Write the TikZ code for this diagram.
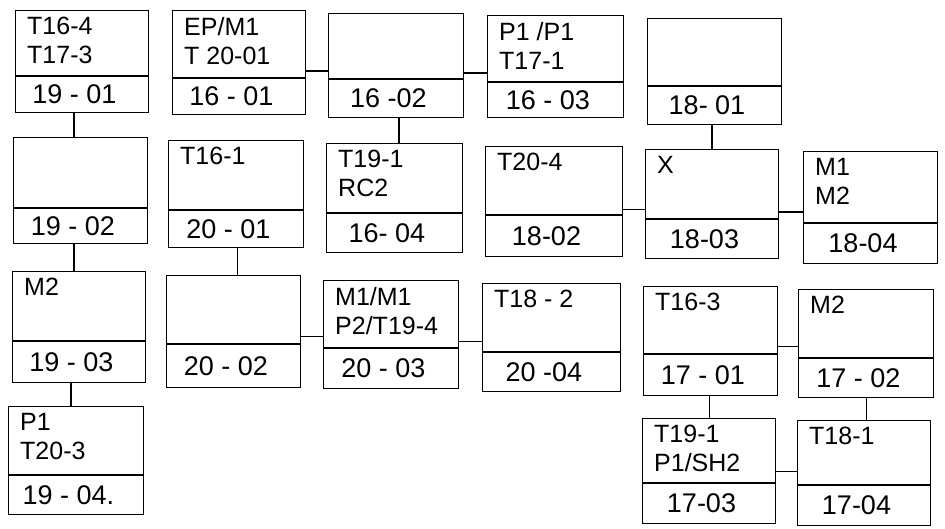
\documentclass[tikz,border=0pt]{standalone}
\usepackage{fontspec}
\setmainfont{Liberation Sans}
\usetikzlibrary{calc}
\tikzset{
  boxframe/.style={draw=black, line width=1.4pt, rectangle, inner sep=0pt, fill=white},
  divline/.style={draw=black, line width=1.4pt},
  conn/.style={draw=black, line width=1.4pt},
  toplabel/.style={inner sep=0pt, align=left, anchor=north west, font=\fontsize{25}{29}\selectfont},
  botlabel/.style={inner sep=0pt, anchor=center, font=\fontsize{27}{30}\selectfont}
}
% name, left, top, right, divider, bottom, top text, bottom text
\newcommand{\mybox}[8]{%
  \node[boxframe, anchor=north west, minimum width={#4-#2}, minimum height={#6-#3}] (#1) at (#2,#3) {};
  \draw[divline] ($(#1.north west)!{(#5-#3)/(#6-#3)}!(#1.south west)$) -- ($(#1.north east)!{(#5-#3)/(#6-#3)}!(#1.south east)$);
  \node[toplabel] (#1t) at (#2+12,#3+7) {#7};
  \node[botlabel] (#1b) at ({(#2+#4)/2-7},{(#5+#6)/2+1}) {#8};
}
% vertical connector from a (bottom, fraction along) to b (top)
\newcommand{\vcon}[3]{%
  \path ($(#1.south west)!#3!(#1.south east)$) coordinate (#1-#2);
  \draw[conn] (#1-#2) -- (#1-#2 |- #2.north);
}
% horizontal connector from a (right side, fraction down) to b (left)
\newcommand{\hcon}[3]{%
  \path ($(#1.north east)!#3!(#1.south east)$) coordinate (#1-#2);
  \draw[conn] (#1-#2) -- (#1-#2 -| #2.west);
}
\begin{document}
\begin{tikzpicture}[x=1pt,y=-1pt]
\useasboundingbox[fill=white] (0,0) rectangle (945,528);
% row 1
\mybox{b1901}{15}{10}{148}{75}{112}{T16-4\\T17-3}{19 - 01}
\mybox{b1601}{172}{10}{305}{77}{114}{EP/M1\\T 20-01}{16 - 01}
\mybox{b1602}{328}{13}{463}{78}{117}{}{16 -02}
\mybox{b1603}{487}{15}{623}{81}{117}{P1 /P1\\T17-1}{16 - 03}
\mybox{b1801}{647}{18}{781}{85}{124}{}{18- 01}
% row 2
\mybox{b1902}{13}{137}{147}{207}{243}{}{19 - 02}
\mybox{b2001}{168}{140}{303}{209}{247}{T16-1}{20 - 01}
\mybox{b1604}{326}{143}{462}{212}{252}{T19-1\\RC2}{16- 04}
\mybox{b1802}{485}{146}{622}{214}{256}{T20-4}{18-02}
\mybox{b1803}{645}{149}{778}{218}{258}{X}{18-03}
\mybox{b1804}{803}{151}{937}{222}{263}{M1\\M2}{18-04}
% row 3
\mybox{b1903}{12}{271}{145}{340}{382}{M2}{19 - 03}
\mybox{b2002}{166}{275}{300}{343}{387}{}{20 - 02}
\mybox{b2003}{323}{280}{458}{347}{388}{M1/M1\\P2/T19-4}{20 - 03}
\mybox{b2004}{482}{283}{620}{351}{391}{T18 - 2}{20 -04}
\mybox{b1701}{643}{286}{777}{353}{395}{T16-3}{17 - 01}
\mybox{b1702}{798}{289}{933}{357}{397}{M2}{17 - 02}
% row 4
\mybox{b1904}{8}{406}{143}{474}{514}{P1\\T20-3}{19 - 04.}
\mybox{b1703}{642}{418}{775}{482}{523}{T19-1\\P1/SH2}{17-03}
\mybox{b1704}{797}{420}{930}{484}{525}{T18-1}{17-04}
% vertical connectors
\vcon{b1901}{b1902}{0.44}
\vcon{b1902}{b1903}{0.45}
\vcon{b1903}{b1904}{0.44}
\vcon{b2001}{b2002}{0.51}
\vcon{b1602}{b1604}{0.52}
\vcon{b1801}{b1803}{0.48}
\vcon{b1701}{b1703}{0.49}
\vcon{b1702}{b1704}{0.50}
% horizontal connectors
\hcon{b1601}{b1602}{0.58}
\hcon{b1602}{b1603}{0.57}
\hcon{b1802}{b1803}{0.57}
\hcon{b1803}{b1804}{0.57}
\hcon{b2002}{b2003}{0.54}
\hcon{b2003}{b2004}{0.56}
\hcon{b1701}{b1702}{0.55}
\hcon{b1703}{b1704}{0.50}
\end{tikzpicture}
\end{document}
